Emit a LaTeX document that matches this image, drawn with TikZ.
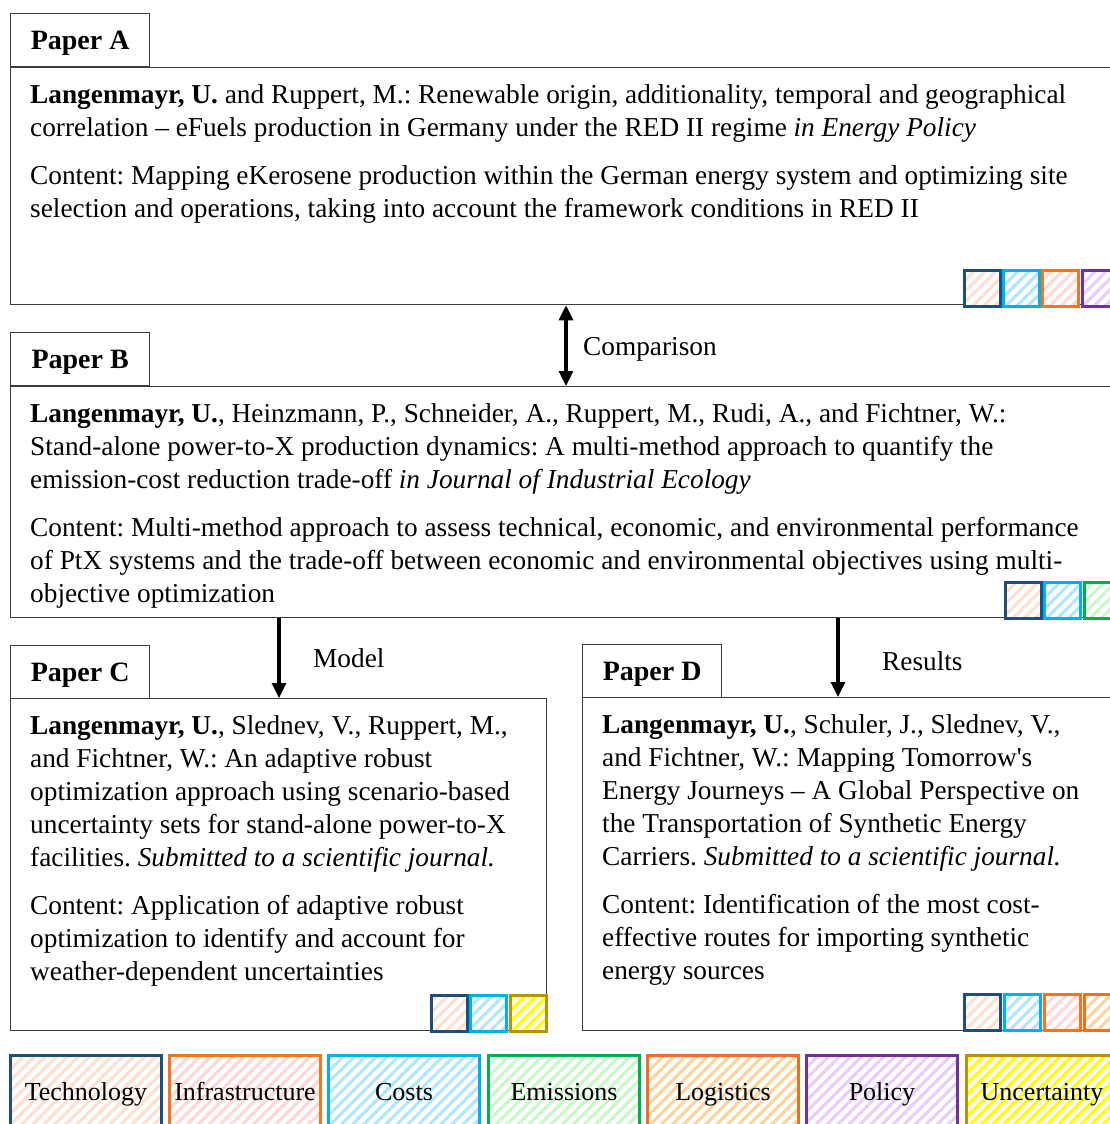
\documentclass[tikz,border=0pt]{standalone}
\usepackage{fontspec}
\setmainfont{Liberation Serif}
\usetikzlibrary{arrows.meta,patterns.meta}
\frenchspacing

% frame and category colours (border / hatch)
\definecolor{boxgray}{HTML}{3C3C3C}
\definecolor{techB}{HTML}{1F4E79}\definecolor{techH}{HTML}{FCE1D0}
\definecolor{infraB}{HTML}{F5761A}\definecolor{infraH}{HTML}{FFD7D7}
\definecolor{costB}{HTML}{00B0F0}\definecolor{costH}{HTML}{B2E7FB}
\definecolor{emisB}{HTML}{00B050}\definecolor{emisH}{HTML}{C8F8C8}
\definecolor{logiB}{HTML}{F07020}\definecolor{logiH}{HTML}{FAD59E}
\definecolor{poliB}{HTML}{7030A0}\definecolor{poliH}{HTML}{E8CEF8}
\definecolor{uncB}{HTML}{BF9000}\definecolor{uncH}{HTML}{FFFF00}

\tikzset{
  frame/.style={draw=boxgray, line width=1.3pt, inner sep=0pt, anchor=north west},
  tabbox/.style={frame, minimum width=139pt, minimum height=53pt, text depth=0pt,
    font=\fontsize{28}{33}\selectfont\bfseries},
  body/.style={anchor=north west, inner sep=0pt, align=left,
    font=\fontsize{27.3}{33}\selectfont},
  linktext/.style={anchor=west, inner sep=0pt, font=\fontsize{27.3}{33}\selectfont},
  flow/.style={line width=3.2pt, -{Triangle[width=14pt,length=15pt]}},
  both/.style={line width=3.2pt, {Triangle[width=14pt,length=15pt]}-{Triangle[width=14pt,length=15pt]}},
  hatch/.style 2 args={draw=#1, line width=3pt, inner sep=0pt,
    preaction={fill=white},
    pattern={Lines[angle=45,distance=7.8pt,line width=3.2pt]}, pattern color=#2},
  tech/.style={hatch={techB}{techH}},
  infra/.style={hatch={infraB}{infraH}},
  cost/.style={hatch={costB}{costH}},
  emis/.style={hatch={emisB}{emisH}},
  logi/.style={hatch={logiB}{logiH}},
  poli/.style={hatch={poliB}{poliH}},
  unc/.style={hatch={uncB}{uncH}},
  sq/.style={minimum size=36pt, anchor=north west},
  legendbox/.style={minimum width=151pt, minimum height=78pt, anchor=north west,
    text height=18pt, text depth=6pt, font=\fontsize{26}{30}\selectfont},
}

\begin{document}
\begin{tikzpicture}[x=1pt, y=-1pt]
\useasboundingbox (0,0) rectangle (1110,1124);
\clip (0,0) rectangle (1110,1124);

% ---------- Paper A ----------
\node[tabbox] (tA) at (10,13) {Paper A};
\node[frame, minimum width=1100pt, minimum height=237pt] (mA) at (10,67) {};
\node[body] (xA) at (30,80.4) {\strut\textbf{Langenmayr, U.} and Ruppert, M.: Renewable origin, additionality, temporal and geographical\\
correlation – eFuels production in Germany under the RED II regime \textit{in Energy Policy}\\[15pt]
Content: Mapping eKerosene production within the German energy system and optimizing site\\
selection and operations, taking into account the framework conditions in RED II};
\node[sq, tech] (a1) at (963,269) {};
\node[sq, cost] (a2) at (1002,269) {};
\node[sq, infra] (a3) at (1041,269) {};
\node[sq, poli] (a4) at (1081,269) {};

% ---------- Paper B ----------
\node[tabbox] (tB) at (10,332) {Paper B};
\node[frame, minimum width=1100pt, minimum height=231pt] (mB) at (10,386) {};
\node[body] (xB) at (30,399.4) {\strut\textbf{Langenmayr, U.}, Heinzmann, P., Schneider, A., Ruppert, M., Rudi, A., and Fichtner, W.:\\
Stand-alone power-to-X production dynamics: A multi-method approach to quantify the\\
emission-cost reduction trade-off \textit{in Journal of Industrial Ecology}\\[15pt]
Content: Multi-method approach to assess technical, economic, and environmental performance\\
of PtX systems and the trade-off between economic and environmental objectives using multi-\\
objective optimization};
\node[sq, tech] (b1) at (1004,581) {};
\node[sq, cost] (b2) at (1043,581) {};
\node[sq, emis] (b3) at (1083,581) {};

% ---------- Paper C ----------
\node[tabbox] (tC) at (10,645) {Paper C};
\node[frame, minimum width=536pt, minimum height=332pt] (mC) at (10,698) {};
\node[body] (xC) at (30,711.4) {\strut\textbf{Langenmayr, U.}, Slednev, V., Ruppert, M.,\\
and Fichtner, W.: An adaptive robust\\
optimization approach using scenario-based\\
uncertainty sets for stand-alone power-to-X\\
facilities. \textit{Submitted to a scientific journal.}\\[15pt]
Content: Application of adaptive robust\\
optimization to identify and account for\\
weather-dependent uncertainties};
\node[sq, tech] (c1) at (430,994) {};
\node[sq, cost] (c2) at (469,994) {};
\node[sq, unc] (c3) at (509,994) {};

% ---------- Paper D ----------
\node[tabbox] (tD) at (582,644) {Paper D};
\node[frame, minimum width=530pt, minimum height=333pt] (mD) at (582,697) {};
\node[body] (xD) at (602,710.4) {\strut\textbf{Langenmayr, U.}, Schuler, J., Slednev, V.,\\
and Fichtner, W.: Mapping Tomorrow\textquotesingle s\\
Energy Journeys – A Global Perspective on\\
the Transportation of Synthetic Energy\\
Carriers. \textit{Submitted to a scientific journal.}\\[15pt]
Content: Identification of the most cost-\\
effective routes for importing synthetic\\
energy sources};
\node[sq, tech] (d1) at (963,993) {};
\node[sq, cost] (d2) at (1003,993) {};
\node[sq, infra] (d3) at (1043,993) {};
\node[sq, logi] (d4) at (1083,993) {};

% ---------- links between the papers ----------
\coordinate (cmpx) at (566,0);
\coordinate (mdlx) at (279,0);
\coordinate (resx) at (838,0);
\draw[both] (mA.south -| cmpx) -- (mB.north -| cmpx);
\draw[flow] (mB.south -| mdlx) -- (mC.north -| mdlx);
\draw[flow] (mB.south -| resx) -- (mD.north -| resx);
\node[linktext] (lcmp) at (583,349) {Comparison};
\node[linktext] (lmdl) at (313,658) {Model};
\node[linktext] (lres) at (882,661) {Results};

% ---------- legend ----------
\node[legendbox, tech]  (g1) at (9,1054)   {Technology};
\node[legendbox, infra] (g2) at (168,1054) {Infrastructure};
\node[legendbox, cost]  (g3) at (327,1054) {Costs};
\node[legendbox, emis]  (g4) at (487,1054) {Emissions};
\node[legendbox, logi]  (g5) at (646,1054) {Logistics};
\node[legendbox, poli]  (g6) at (805,1054) {Policy};
\node[legendbox, unc]   (g7) at (965,1054) {Uncertainty};
\end{tikzpicture}
\end{document}
